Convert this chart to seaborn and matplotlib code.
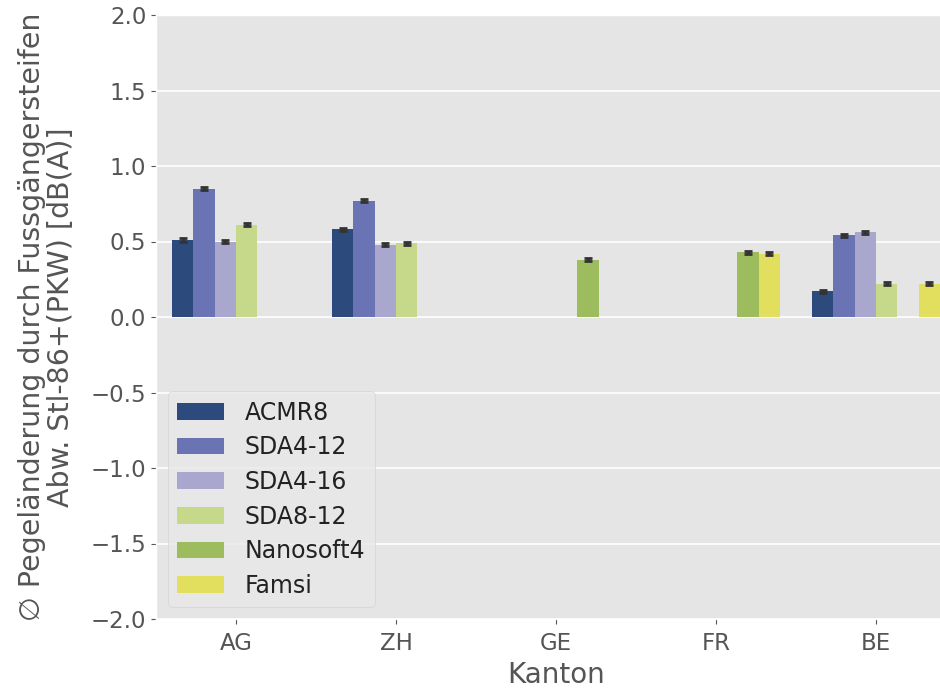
import numpy as np
import pandas as pd
import matplotlib
matplotlib.use("Agg")
import matplotlib.pyplot as plt
from matplotlib.container import BarContainer
import seaborn as sns

# Werte pro Produkt und Kanton (NaN = nicht vorhanden)
kantone = ['AG', 'ZH', 'GE', 'FR', 'BE']
produkte = ['ACMR8', 'SDA4-12', 'SDA4-16', 'SDA8-12', 'Nanosoft4', 'Famsi']
acmr8 = [0.51, 0.58, np.nan, np.nan, 0.17]
sda4_12 = [0.85, 0.77, np.nan, np.nan, 0.54]
sda4_16 = [0.50, 0.48, np.nan, np.nan, 0.56]
sda8_12 = [0.61, 0.49, np.nan, np.nan, 0.22]
nanosoft4 = [np.nan, np.nan, 0.38, 0.43, np.nan]
famsi = [np.nan, np.nan, np.nan, 0.42, 0.22]
fehler = 0.01

farben = ['#2c4b7c', '#6a74b4', '#a9a7cd', '#c6d98a', '#9dbc5e', '#e2df5e']

werte = [acmr8, sda4_12, sda4_16, sda8_12, nanosoft4, famsi]
rows = []
for prod, vals in zip(produkte, werte):
    for k, v in zip(kantone, vals):
        if not np.isnan(v):
            rows.append({'Kanton': k, 'Produkt': prod, 'Wert': v})
df = pd.DataFrame(rows)

plt.style.use('ggplot')
plt.rcParams['font.family'] = ['DejaVu Sans']

fig = plt.figure(figsize=(9.4, 6.91), dpi=100)
ax = fig.add_axes([156 / 940, 72 / 691, 800 / 940, 604 / 691])

sns.barplot(data=df, x='Kanton', y='Wert', hue='Produkt', order=kantone,
            hue_order=produkte, palette=farben, errorbar=None, width=0.8,
            saturation=1, ax=ax)

# kleine Fehlerbalken
bars = [c for c in ax.containers if isinstance(c, BarContainer)]
for cont in bars:
    for p in cont.patches:
        xc = p.get_x() + p.get_width() / 2
        yv = p.get_height()
        if np.isnan(yv):
            continue
        ax.errorbar(xc, yv, yerr=fehler, color='#333333', capsize=3,
                    elinewidth=2.5, capthick=2)

ax.set_xlim(-0.5, 4.5)
ax.set_ylim(-2.0, 2.0)
ax.set_yticks(np.arange(-2.0, 2.01, 0.5))
ax.xaxis.grid(False)
ax.yaxis.grid(True, color='white', linewidth=1.2)
ax.tick_params(labelsize=16.5, colors='#555555', labelcolor='#555555')
ax.tick_params(axis='x', pad=6)
ax.set_xlabel('Kanton', fontsize=20, color='#555555', labelpad=4)
ax.set_ylabel('\u2205 Pegeländerung durch Fussgängersteifen\nAbw. Stl-86+(PKW) [dB(A)]',
              fontsize=20.5, color='#555555', labelpad=11, linespacing=1.05)

leg = ax.legend(loc='lower left', fontsize=17, handlelength=2.0,
                handletextpad=0.85, borderpad=0.4, labelspacing=0.45,
                frameon=True)
leg.get_frame().set_facecolor('#e8e8e8')
leg.get_frame().set_edgecolor('#d0d0d0')
for t in leg.get_texts():
    t.set_color('#222222')

fig.savefig('out.png', dpi=100)
